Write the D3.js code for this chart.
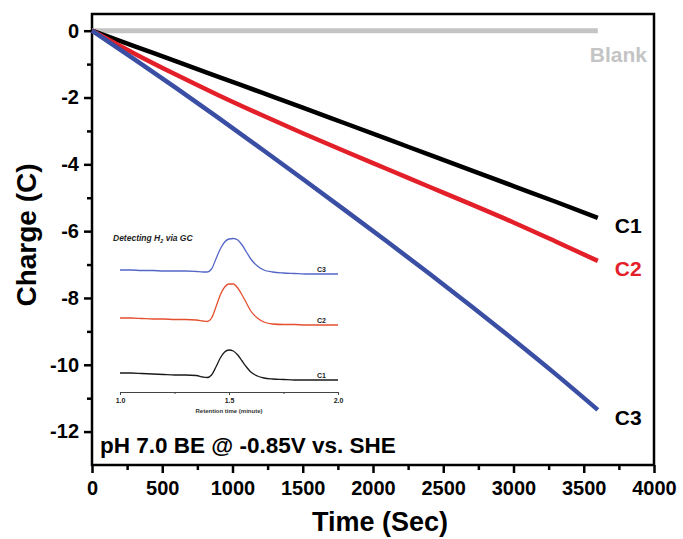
<!DOCTYPE html>
<html>
<head>
<meta charset="utf-8">
<script src="https://cdn.jsdelivr.net/npm/d3@7"></script>
<style>
  body { margin: 0; background: #fff; }
  text { font-family: "Liberation Sans", Arial, sans-serif; font-weight: bold; }
</style>
</head>
<body>
<svg id="chart" width="683" height="539"></svg>
<script>
// main chart data (time in sec, charge in C)
var times = [0, 300, 600, 900, 1200, 1500, 1800, 2100, 2400, 2700, 3000, 3300, 3600];
var blank = [0, 0, 0, 0, 0, 0, 0, 0, 0, 0, 0, 0, 0];
var c1 = [0, -0.46, -0.92, -1.38, -1.84, -2.3, -2.77, -3.24, -3.71, -4.18, -4.65, -5.12, -5.6];
var c2 = [0, -0.68, -1.32, -1.93, -2.51, -3.07, -3.61, -4.14, -4.67, -5.20, -5.74, -6.31, -6.89];
var c3 = [0, -0.85, -1.72, -2.61, -3.52, -4.44, -5.37, -6.31, -7.27, -8.25, -9.25, -10.28, -11.35];
var xTicks = [0, 500, 1000, 1500, 2000, 2500, 3000, 3500, 4000];
var yTicks = [0, -2, -4, -6, -8, -10, -12];

// inset GC traces (retention time in minutes, signal in arbitrary units)
var rt = [1.0, 1.05, 1.1, 1.15, 1.2, 1.25, 1.3, 1.35, 1.38, 1.4, 1.42, 1.44, 1.46, 1.48, 1.5, 1.52, 1.54, 1.56, 1.58, 1.6, 1.63, 1.66, 1.7, 1.75, 1.8, 1.85, 1.9, 1.95, 2.0];
var gc1 = [19, 19, 18.5, 18, 17.5, 17, 17, 16.5, 15, 14.5, 17, 25, 34, 40, 42, 41, 37, 31, 25, 20, 16, 14, 13, 12.5, 12, 12, 12, 12, 12];
var gc2 = [74, 74, 73.5, 73, 73, 72.5, 72.5, 72, 71, 70.5, 74, 85, 97, 105, 108, 108, 104, 97, 89, 81, 74, 70, 68, 67.5, 67.5, 67, 67, 67, 67];
var gc3 = [122, 122, 121.5, 121.5, 121, 121, 121, 120.5, 120, 120, 123, 133, 143, 150, 153, 153.5, 152, 147, 140, 133, 126, 122, 120, 119, 118.5, 118, 118, 118, 118];
var rtTicks = [1.0, 1.5, 2.0];

var svg = d3.select("#chart");
var margin = { top: 14, right: 29, bottom: 74, left: 92 };
var width = 683 - margin.left - margin.right;
var height = 539 - margin.top - margin.bottom;

var g = svg.append("g")
    .attr("transform", "translate(" + margin.left + "," + margin.top + ")");

var x = d3.scaleLinear().domain([0, 4000]).range([0, width]);
var y = d3.scaleLinear().domain([-13, 0.5]).range([height, 0]);

// frame
g.append("rect")
    .attr("x", 0).attr("y", 0)
    .attr("width", width).attr("height", height)
    .attr("fill", "none")
    .attr("stroke", "#000")
    .attr("stroke-width", 2.5);

// minor ticks
var xMinor = d3.range(250, 4000, 500);
var yMinor = d3.range(-1, -13, -2);
g.append("g")
    .attr("transform", "translate(0," + height + ")")
    .call(d3.axisBottom(x).tickValues(xMinor).tickSize(5).tickFormat(""))
    .call(a => a.select(".domain").remove())
    .selectAll("line").attr("stroke-width", 2.5);
g.append("g")
    .call(d3.axisLeft(y).tickValues(yMinor).tickSize(5).tickFormat(""))
    .call(a => a.select(".domain").remove())
    .selectAll("line").attr("stroke-width", 2.5);

// major axes
var xAxis = g.append("g")
    .attr("transform", "translate(0," + height + ")")
    .call(d3.axisBottom(x).tickValues(xTicks).tickSize(8).tickPadding(8).tickFormat(d3.format("d")));
xAxis.select(".domain").remove();
xAxis.selectAll("line").attr("stroke-width", 2.5);
xAxis.selectAll("text").attr("font-size", 20).attr("fill", "#000");

var yAxis = g.append("g")
    .call(d3.axisLeft(y).tickValues(yTicks).tickSize(8).tickPadding(5).tickFormat(d => d));
yAxis.select(".domain").remove();
yAxis.selectAll("line").attr("stroke-width", 2.5);
yAxis.selectAll("text").attr("font-size", 20).attr("fill", "#000");

// axis titles
svg.append("text")
    .attr("x", 380).attr("y", 531)
    .attr("text-anchor", "middle")
    .attr("font-size", 27)
    .text("Time (Sec)");
svg.append("text")
    .attr("transform", "translate(36,235) rotate(-90)")
    .attr("text-anchor", "middle")
    .attr("font-size", 28)
    .text("Charge (C)");

// lines
var series = [
    { name: "Blank", vals: blank, color: "#c4c4c4", width: 5 },
    { name: "C1", vals: c1, color: "#000000", width: 4.5 },
    { name: "C2", vals: c2, color: "#e3202a", width: 4.5 },
    { name: "C3", vals: c3, color: "#3a4ea3", width: 4.5 }
];
var line = d3.line()
    .x(d => x(d[0]))
    .y(d => y(d[1]))
    .curve(d3.curveMonotoneX);

series.forEach(function(s) {
    g.append("path")
        .datum(times.map((t, i) => [t, s.vals[i]]))
        .attr("fill", "none")
        .attr("stroke", s.color)
        .attr("stroke-width", s.width)
        .attr("d", line);
});

// series labels
g.append("text").attr("x", 555).attr("y", y(0) + 31).attr("text-anchor", "end")
    .attr("font-size", 21).attr("fill", "#c4c4c4").text("Blank");
g.append("text").attr("x", x(3600) + 17).attr("y", y(c1[12]) + 15)
    .attr("font-size", 21).attr("fill", "#000").text("C1");
g.append("text").attr("x", x(3600) + 17).attr("y", y(c2[12]) + 15)
    .attr("font-size", 21).attr("fill", "#e3202a").text("C2");
g.append("text").attr("x", x(3600) + 17).attr("y", y(c3[12]) + 15)
    .attr("font-size", 21).attr("fill", "#000").text("C3");

// condition note
g.append("text").attr("x", 8).attr("y", 439)
    .attr("font-size", 22.5).attr("fill", "#000")
    .text("pH 7.0 BE @ -0.85V vs. SHE");

// inset
var inset = svg.append("g");
var ix = d3.scaleLinear().domain([1.0, 2.0]).range([120, 338]);
var iy = d3.scaleLinear().domain([0, 160]).range([392, 232]);

inset.append("text").attr("x", 113).attr("y", 241)
    .attr("font-size", 8.5).attr("font-style", "italic").attr("fill", "#222")
    .call(t => {
        t.append("tspan").text("Detecting H");
        t.append("tspan").attr("font-size", 5.5).attr("dy", 2).text("2");
        t.append("tspan").attr("dy", -2).text(" via GC");
    });

var ixAxis = inset.append("g")
    .attr("transform", "translate(0,392)")
    .call(d3.axisBottom(ix).tickValues(rtTicks).tickSize(3).tickPadding(3).tickFormat(d3.format(".1f")));
ixAxis.select(".domain").attr("stroke", "#444").attr("stroke-width", 1);
ixAxis.selectAll("line").attr("stroke", "#444");
ixAxis.selectAll("text").attr("font-size", 7).attr("fill", "#222");
inset.append("g")
    .attr("transform", "translate(0,392)")
    .call(d3.axisBottom(ix).tickValues([1.25, 1.75]).tickSize(2).tickFormat(""))
    .call(a => a.select(".domain").remove())
    .selectAll("line").attr("stroke", "#444");
inset.append("text").attr("x", 229).attr("y", 413)
    .attr("text-anchor", "middle").attr("font-size", 6).attr("fill", "#333")
    .text("Retention time (minute)");

var gcSeries = [
    { name: "C1", vals: gc1, color: "#1a1a1a" },
    { name: "C2", vals: gc2, color: "#e4502f" },
    { name: "C3", vals: gc3, color: "#5466c8" }
];
var iline = d3.line()
    .x(d => ix(d[0]))
    .y(d => iy(d[1]))
    .curve(d3.curveMonotoneX);
gcSeries.forEach(function(s) {
    inset.append("path")
        .datum(rt.map((t, i) => [t, s.vals[i]]))
        .attr("fill", "none")
        .attr("stroke", s.color)
        .attr("stroke-width", 1.3)
        .attr("d", iline);
    inset.append("text")
        .attr("x", 326).attr("y", iy(s.vals[s.vals.length - 1]) - 2)
        .attr("text-anchor", "end")
        .attr("font-size", 7).attr("fill", "#222")
        .text(s.name);
});
</script>
</body>
</html>
